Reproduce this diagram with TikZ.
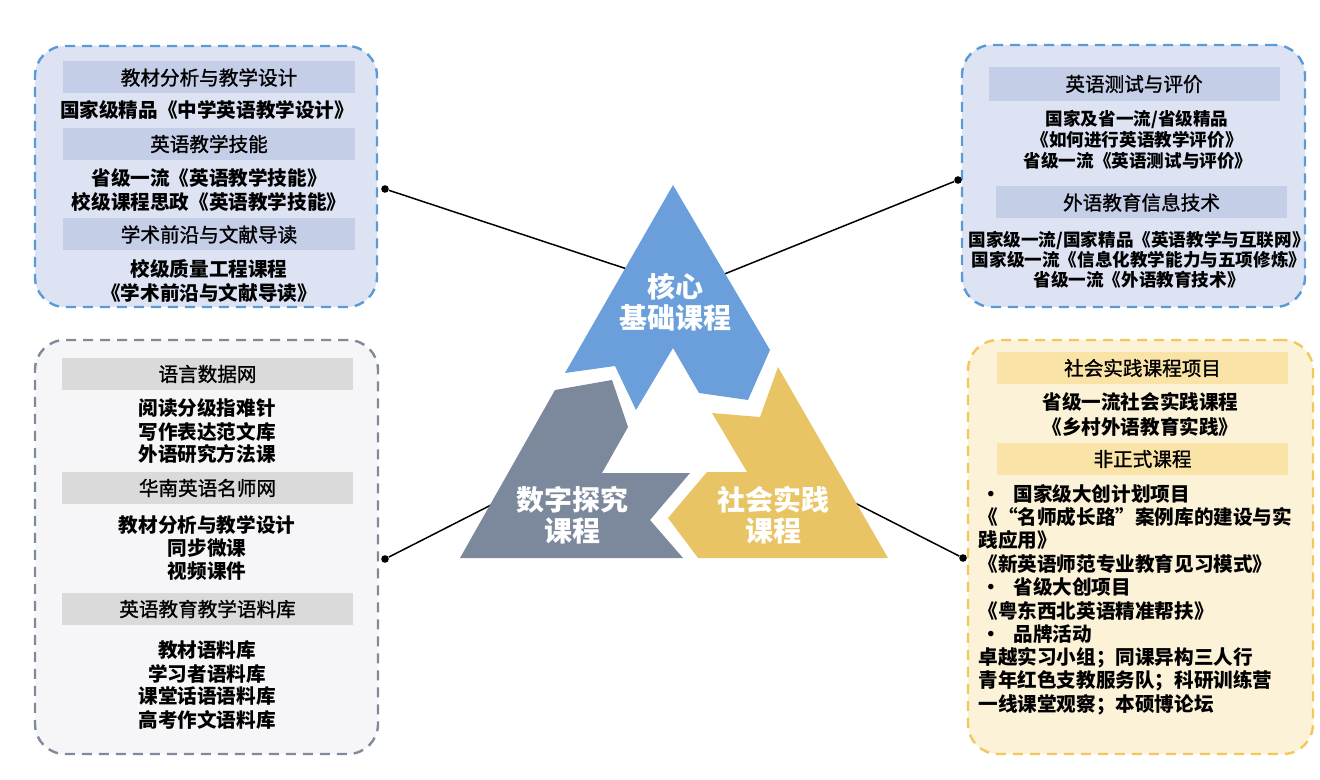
\documentclass[tikz,border=0pt]{standalone}
\usepackage{fontspec}
\setmainfont{Noto Sans CJK SC}
\newfontfamily\barfont{Noto Sans CJK SC}[FakeBold=1.2]
\usepackage{tikz}
\usetikzlibrary{positioning}
\definecolor{coreblue}{HTML}{6A9FDB}
\definecolor{digigray}{HTML}{7C889B}
\definecolor{socyellow}{HTML}{E9C465}
\definecolor{bluefill}{HTML}{DDE3F3}
\definecolor{bluebar}{HTML}{C4CEE7}
\definecolor{blueline}{HTML}{5B9BD5}
\definecolor{grayfill}{HTML}{F6F6F8}
\definecolor{graybar}{HTML}{DADADA}
\definecolor{grayline}{HTML}{7F8A9C}
\definecolor{yelfill}{HTML}{FCF2D8}
\definecolor{yelbar}{HTML}{F9E3A6}
\definecolor{yelline}{HTML}{F2C75C}

\begin{document}
\begin{tikzpicture}[x=0.5pt,y=-0.5pt,
  panel/.style={dashed,dash pattern=on 5pt off 3.5pt,line width=1.2pt,rounded corners=15pt,inner sep=0pt},
  bar/.style={minimum width=145.5pt,minimum height=16pt,inner sep=0pt,text=black,font=\barfont\fontsize{9.8}{11}\selectfont},
  txt/.style={inner sep=0pt,text=black,font=\fontsize{9.8}{11}\selectfont\bfseries},
  small/.style={txt,font=\fontsize{8.8}{10}\selectfont\bfseries},
  lbl/.style={white,align=center,inner sep=0pt,font=\fontsize{14}{15.5}\selectfont\bfseries},
  dot/.style={circle,fill=black,inner sep=0pt,minimum size=3.8pt},
  link/.style={line width=0.75pt}]
  \useasboundingbox (0,0) rectangle (1320,780);

  % four panels
  \node[panel,draw=blueline,fill=bluefill,minimum width=171pt,minimum height=130.5pt] (tlbox) at (206,176.5) {};
  \node[panel,draw=blueline,fill=bluefill,minimum width=171.5pt,minimum height=131pt] (trbox) at (1133.5,176) {};
  \node[panel,draw=grayline,fill=grayfill,minimum width=171.5pt,minimum height=207pt] (blbox) at (206.5,547) {};
  \node[panel,draw=yelline,fill=yelfill,minimum width=172.5pt,minimum height=207pt] (brbox) at (1140.5,547) {};

  % top left
  \node[bar,fill=bluebar,minimum width=146pt] (tlh1) at (209,77.5) {教材分析与教学设计};
  \node[txt] (tla) at (207,110) {国家级精品《中学英语教学设计》};
  \node[bar,fill=bluebar,minimum width=146pt] (tlh2) at (209,144) {英语教学技能};
  \node[txt] (tlb) at (209,178) {省级一流《英语教学技能》};
  \node[txt] (tlc) at (209,202) {校级课程思政《英语教学技能》};
  \node[bar,fill=bluebar,minimum width=146pt] (tlh3) at (209,234.5) {学术前沿与文献导读};
  \node[txt] (tld) at (209,269) {校级质量工程课程};
  \node[txt] (tle) at (209,293) {《学术前沿与文献导读》};

  % top right
  \node[bar,fill=bluebar,minimum height=17pt] (trh1) at (1134,84) {英语测试与评价};
  \node[small] (tra) at (1137,119) {国家及省一流/省级精品};
  \node[small] (trb) at (1137,139.5) {《如何进行英语教学评价》};
  \node[small] (trc) at (1138,160.5) {省级一流《英语测试与评价》};
  \node[bar,fill=bluebar] (trh2) at (1141.5,202.5) {外语教育信息技术};
  \node[small] (trd) at (1139,240) {国家级一流/国家精品《英语教学与互联网》};
  \node[small] (tre) at (1139,260) {国家级一流《信息化教学能力与五项修炼》};
  \node[small] (trf) at (1139,279.5) {省级一流《外语教育技术》};

  % bottom left
  \node[bar,fill=graybar] (blh1) at (207.5,374) {语言数据网};
  \node[txt] (bla) at (207,408) {阅读分级指难针};
  \node[txt] (blb) at (207,431.5) {写作表达范文库};
  \node[txt] (blc) at (207,453.5) {外语研究方法课};
  \node[bar,fill=graybar] (blh2) at (207.5,488) {华南英语名师网};
  \node[txt] (bld) at (207,525) {教材分析与教学设计};
  \node[txt] (ble) at (207,548.5) {同步微课};
  \node[txt] (blf) at (207,571.5) {视频课件};
  \node[bar,fill=graybar] (blh3) at (207.5,609) {英语教育教学语料库};
  \node[txt] (blg) at (207,650) {教材语料库};
  \node[txt] (blh) at (207,673.5) {学习者语料库};
  \node[txt] (bli) at (207,696.5) {课堂话语语料库};
  \node[txt] (blj) at (207,720) {高考作文语料库};

  % bottom right
  \node[bar,fill=yelbar] (brh1) at (1142.5,368) {社会实践课程项目};
  \node[txt] (bra) at (1140.5,402) {省级一流社会实践课程};
  \node[txt] (brb) at (1140.5,427) {《乡村外语教育实践》};
  \node[bar,fill=yelbar] (brh2) at (1142.5,459) {非正式课程};
  \node[txt,anchor=west] (brc) at (978,493.5) {\makebox[17.5pt][l]{\,•}国家级大创计划项目};
  \node[txt,anchor=west] (brd) at (978,517) {《“名师成长路”案例库的建设与实};
  \node[txt,anchor=west] (bre) at (978,540) {践应用》};
  \node[txt,anchor=west] (brf) at (978,563.5) {《新英语师范专业教育见习模式》};
  \node[txt,anchor=west] (brg) at (978,587) {\makebox[17.5pt][l]{\,•}省级大创项目};
  \node[txt,anchor=west] (brh) at (978,610.5) {《粤东西北英语精准帮扶》};
  \node[txt,anchor=west] (bri) at (978,634) {\makebox[17.5pt][l]{\,•}品牌活动};
  \node[txt,anchor=west] (brj) at (978,658) {卓越实习小组；同课异构三人行};
  \node[txt,anchor=west] (brk) at (978,681) {青年红色支教服务队；科研训练营};
  \node[txt,anchor=west] (brl) at (978,705) {一线课堂观察；本硕博论坛};

  % connectors
  \node[dot] (dtl) at (385,189) {};
  \node[dot] (dtr) at (958,180) {};
  \node[dot] (dbl) at (385,559) {};
  \node[dot] (dbr) at (963,558) {};
  \coordinate (ptl) at (630,270);
  \coordinate (ptr) at (722,275);
  \coordinate (pbl) at (495,503);
  \coordinate (pbr) at (855,503);
  \draw[link] (dtl) -- (ptl);
  \draw[link] (dtr) -- (ptr);
  \draw[link] (dbl) -- (pbl);
  \draw[link] (dbr) -- (pbr);

  % three arrows
  \fill[coreblue] (673,185) -- (770,350) -- (748,400) -- (699,393) -- (673,348) -- (636,410) -- (615,366) -- (565,373) -- cycle;
  \fill[digigray] (555,390) -- (612,380) -- (628,427) -- (602,473) -- (690,473) -- (650,520) -- (683,558) -- (460,558) -- cycle;
  \fill[socyellow] (778,367) -- (888,558) -- (698,558) -- (668,518) -- (707,472) -- (747,472) -- (712,413) -- (760,417) -- cycle;

  \node[lbl] (core) at (675,302) {核心\\基础课程};
  \node[lbl] (digi) at (572,515) {数字探究\\课程};
  \node[lbl] (soc) at (773,515) {社会实践\\课程};
\end{tikzpicture}
\end{document}
